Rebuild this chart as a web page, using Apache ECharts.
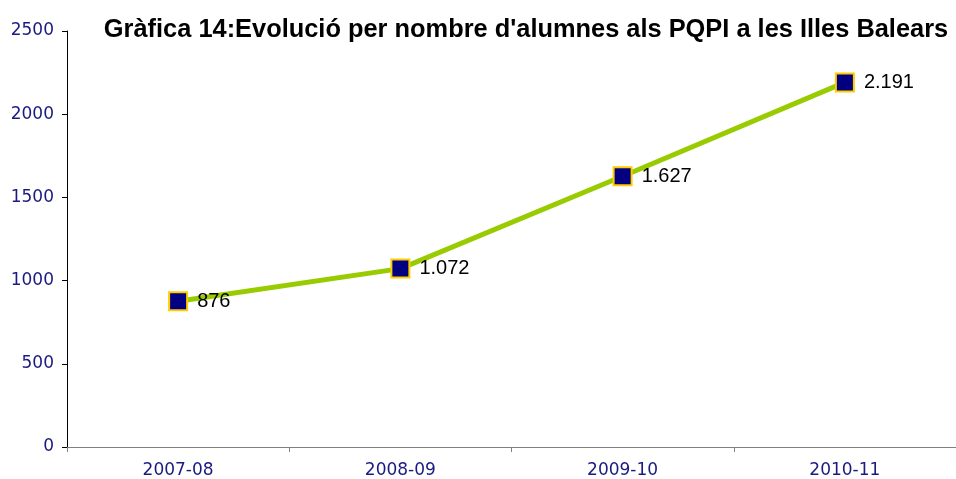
<!DOCTYPE html>
<html>
<head>
<meta charset="utf-8">
<script src="https://cdn.jsdelivr.net/npm/echarts@6/dist/echarts.min.js"></script>
<style>
  html, body { margin: 0; padding: 0; background: #fff; }
  #chart-container { width: 956px; height: 479px; }
</style>
</head>
<body>
<div id="chart-container"></div>
<script>
'use strict';

const years = ['2007-08', '2008-09', '2009-10', '2010-11'];
const students = [876, 1072, 1627, 2191];
const pointLabels = ['876', '1.072', '1.627', '2.191'];

const myChart = echarts.init(
    document.getElementById('chart-container'),
    null,
    { renderer: 'canvas' }
);

const option = {
    backgroundColor: '#fff',
    animation: false,
    title: {
        text: "Gràfica 14:Evolució per nombre d'alumnes als PQPI a les Illes Balears",
        left: 521,
        textAlign: 'center',
        top: 12,
        textStyle: {
            fontFamily: 'Liberation Sans',
            fontWeight: 'bold',
            fontSize: 25.4,
            color: '#000'
        }
    },
    grid: {
        left: 67,
        right: 0,
        top: 31,
        bottom: 32
    },
    xAxis: {
        type: 'category',
        data: years,
        boundaryGap: true,
        axisLine: { lineStyle: { color: '#808080', width: 1 } },
        axisTick: { show: true, length: 5, lineStyle: { color: '#808080' } },
        axisLabel: {
            fontFamily: 'DejaVu Sans',
            fontSize: 17,
            color: '#1a1a80',
            margin: 15
        },
        splitLine: { show: false }
    },
    yAxis: {
        type: 'value',
        min: 0,
        max: 2500,
        interval: 500,
        axisLine: { show: true, lineStyle: { color: '#000', width: 1 } },
        axisTick: { show: true, length: 5, lineStyle: { color: '#000' } },
        axisLabel: {
            fontFamily: 'DejaVu Sans',
            fontSize: 17,
            color: '#1a1a80',
            margin: 13,
            formatter: (v) => String(v)
        },
        splitLine: { show: false }
    },
    series: [{
        type: 'line',
        data: students,
        symbol: 'rect',
        symbolSize: 18,
        lineStyle: { color: '#99cc00', width: 5 },
        itemStyle: {
            color: '#000080',
            borderColor: '#ffcc00',
            borderWidth: 2
        },
        label: {
            show: true,
            position: 'right',
            distance: 9,
            fontFamily: 'Liberation Sans',
            fontSize: 20,
            color: '#000',
            formatter: (p) => pointLabels[p.dataIndex]
        }
    }]
};
myChart.setOption(option);

window.addEventListener('resize', myChart.resize);
</script>
</body>
</html>
